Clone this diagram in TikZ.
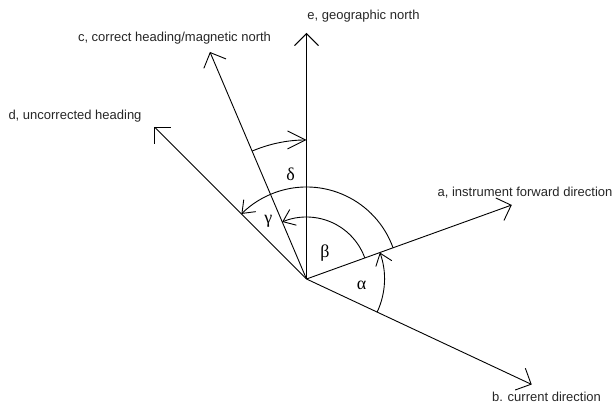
\documentclass[tikz,border=0pt]{standalone}
\usepackage{fontspec}
\setmainfont{Liberation Sans}
\newfontfamily\greekfont{Liberation Serif}
\usetikzlibrary{arrows.meta}
\begin{document}
\begin{tikzpicture}[x=1pt,y=1pt,
  vec/.style={line width=0.9pt, -{Straight Barb[length=12pt,width=24pt]}},
  arcarrow/.style={line width=0.9pt, -{Straight Barb[length=11pt,width=17pt]}},
  longarc/.style={line width=0.9pt, -{Straight Barb[length=18pt,width=18pt]}},
  lbl/.style={font=\fontsize{13}{15}\selectfont, inner sep=0pt, text=black!85},
  greek/.style={font=\greekfont\fontsize{18}{20}\selectfont, inner sep=0pt}]
\useasboundingbox (0,0) rectangle (615,403);
\coordinate (O) at (306.5,124);
\path (O) ++(90:246) coordinate (e);
\path (O) ++(113.04:246.7) coordinate (c);
\path (O) ++(135:215.6) coordinate (d);
\path (O) ++(19.83:218.2) coordinate (a);
\path (O) ++(-25.1:248.7) coordinate (b);
% vectors
\draw[vec] (O) -- (e);
\draw[vec] (O) -- (c);
\draw[vec] (O) -- (d);
\draw[vec] (O) -- (a);
\draw[vec] (O) -- (b);
% arcs
\draw[arcarrow] (O) ++(-25.1:78) arc[start angle=-25.1, end angle=19.83, radius=78];
\draw[arcarrow] (O) ++(19.83:62) arc[start angle=19.83, end angle=113.04, radius=62];
\draw[arcarrow] (O) ++(19.83:92) arc[start angle=19.83, end angle=135, radius=92];
\draw[longarc] (O) ++(113.04:139) arc[start angle=113.04, end angle=90, radius=139];
% labels
\node[lbl] (le) at (363.5,387) {e, geographic north};
\node[lbl] (lc) at (174.5,365) {c, correct heading/magnetic north};
\node[lbl] (ld) at (75,287) {d, uncorrected heading};
\node[lbl] (la) at (525,210) {a, instrument forward direction};
\node[lbl] (lb) at (546.5,6) {b. current direction};
% greek
\node[greek] (gd) at (290.7,229) {δ};
\node[greek] (gg) at (268.3,181.3) {γ};
\node[greek] (gb) at (325,149.7) {β};
\node[greek] (ga) at (361.7,118) {α};
\end{tikzpicture}
\end{document}
